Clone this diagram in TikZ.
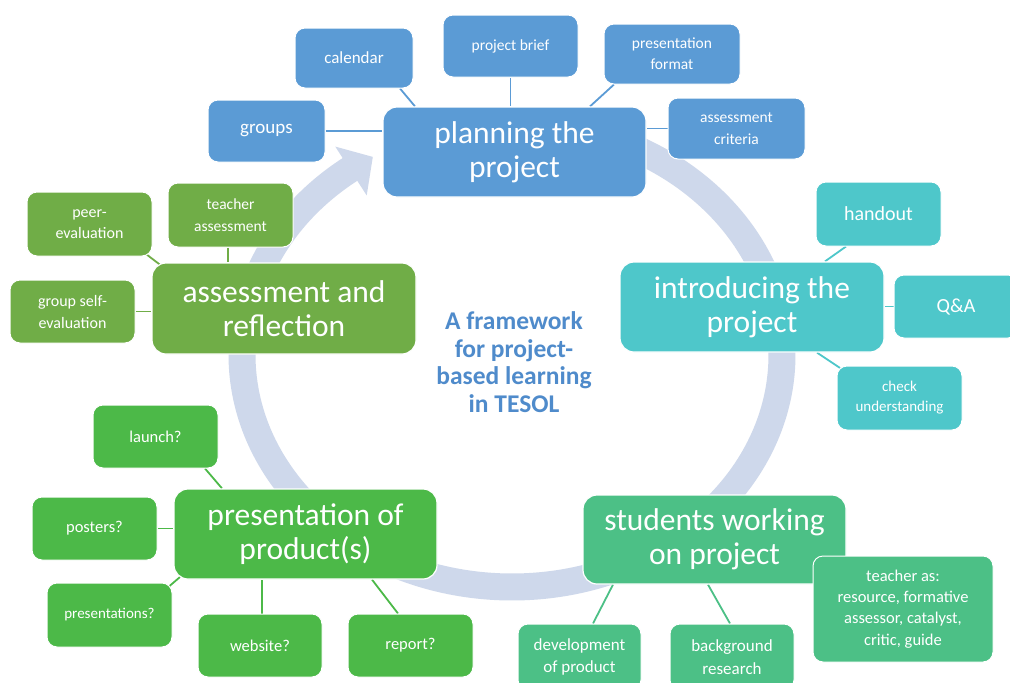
\documentclass[tikz,border=0pt]{standalone}
\usepackage{fontspec}
\setmainfont{Carlito}
\usetikzlibrary{backgrounds}

\definecolor{planblue}{RGB}{91,155,213}
\definecolor{introcyan}{RGB}{78,199,202}
\definecolor{workteal}{RGB}{76,192,134}
\definecolor{presgreen}{RGB}{76,185,72}
\definecolor{assessolive}{RGB}{112,173,71}
\definecolor{ringgrey}{RGB}{206,216,235}
\definecolor{titleblue}{RGB}{79,139,203}

\newcommand\fsz[2]{\fontsize{#1}{#2}\selectfont}

\tikzset{
  mainbox/.style={rounded corners=14pt, draw=white, line width=1.2pt, text=white,
    align=center, inner sep=0pt, minimum width=263pt, minimum height=90pt,
    font=\fsz{31.5}{34}},
  subbox/.style={rounded corners=10pt, draw=white, line width=1pt, text=white,
    align=center, inner sep=0pt, minimum width=125pt, minimum height=63pt},
  link/.style={line width=1.8pt},
  titletext/.style={align=center, text=titleblue, font=\bfseries\fsz{25.5}{27.5}}
}

\begin{document}
\begin{tikzpicture}[x=1pt,y=-1pt]
\useasboundingbox (0,0) rectangle (1010,683);

% ---------- planning the project ----------
\node[mainbox, fill=planblue] (plan) at (514.5,152) {planning the\\project};
\node[subbox, fill=planblue, minimum width=117pt, minimum height=62pt, font=\fsz{19}{22}] (groups) at (266.5,131) {groups};
\node[subbox, fill=planblue, minimum width=118pt, minimum height=60pt, font=\fsz{17}{21}] (calendar) at (354,58) {calendar};
\node[subbox, fill=planblue, minimum width=135pt, minimum height=62pt, font=\fsz{15.5}{21}] (brief) at (510.5,46) {project brief};
\node[subbox, fill=planblue, minimum width=136pt, minimum height=60pt, font=\fsz{15.5}{21}] (format) at (672,54) {presentation\\format};
\node[subbox, fill=planblue, minimum width=137pt, minimum height=61pt, font=\fsz{15.5}{22}] (criteria) at (736.5,128.5) {assessment\\criteria};

% ---------- introducing the project ----------
\node[mainbox, fill=introcyan, minimum width=264pt] (intro) at (752,307) {introducing the\\project};
\node[subbox, fill=introcyan, minimum height=64pt, font=\fsz{20}{22}] (handout) at (878.5,214) {handout};
\node[subbox, fill=introcyan, minimum width=124pt, font=\fsz{20}{22}] (qa) at (956,306.5) {Q\&A};
\node[subbox, fill=introcyan, minimum height=64pt, font=\fsz{15}{20}] (check) at (899.5,398) {check\\understanding};

% ---------- students working on project ----------
\node[mainbox, fill=workteal, minimum height=89pt] (work) at (714.5,539.5) {students working\\on project};
\node[subbox, fill=workteal, minimum width=123pt, minimum height=66pt, font=\fsz{17}{22}] (develop) at (579.5,657) {development\\of product};
\node[subbox, fill=workteal, minimum width=124pt, minimum height=66pt, font=\fsz{17}{23}] (research) at (732,657) {background\\research};
\node[subbox, fill=workteal, minimum width=180pt, minimum height=106pt, font=\fsz{16.5}{21.3}] (teacheras) at (903,609) {teacher as:\\resource, formative\\assessor, catalyst,\\critic, guide};

% ---------- presentation of product(s) ----------
\node[mainbox, fill=presgreen] (pres) at (305.5,534) {presentation of\\product(s)};
\node[subbox, fill=presgreen, font=\fsz{16.5}{21}] (launch) at (155.5,436.5) {launch?};
\node[subbox, fill=presgreen, font=\fsz{16.5}{21}] (posters) at (94.5,528.5) {posters?};
\node[subbox, fill=presgreen, minimum height=64pt, font=\fsz{15}{21}] (presentations) at (109.5,615) {presentations?};
\node[subbox, fill=presgreen, minimum width=124pt, font=\fsz{16.5}{21}] (website) at (260,645.5) {website?};
\node[subbox, fill=presgreen, font=\fsz{16.5}{21}] (report) at (410.5,645.5) {report?};

% ---------- assessment and reflection ----------
\node[mainbox, fill=assessolive, minimum width=264pt, minimum height=91pt] (assess) at (284,308.5) {assessment and\\reflection};
\node[subbox, fill=assessolive, minimum height=64pt, font=\fsz{15.5}{22}] (teacherass) at (230.5,215) {teacher\\assessment};
\node[subbox, fill=assessolive, minimum height=64pt, font=\fsz{16}{21}] (peer) at (89.5,224) {peer-\\evaluation};
\node[subbox, fill=assessolive, font=\fsz{16}{22}] (selfev) at (72.5,311.5) {group self-\\evaluation};

% ---------- centre title ----------
\node[titletext] (title) at (514,362) {A framework\\for project-\\based learning\\in TESOL};

\begin{scope}[on background layer]
  \fill[white] (0,0) rectangle (1010,683);

  % circular process arrow (ellipse centre 512,355; radii 270 x 232)
  \draw[ringgrey, line width=27pt]
    plot[domain=0:310, samples=160, smooth]
    ({512+270*cos(75-\x)},{355-232*sin(75-\x)});
  \coordinate (headtip) at (372.8,156.9);
  \coordinate (headin)  at (366.7,195.4);
  \coordinate (headout) at (335.3,146.6);
  \fill[ringgrey] (headtip) -- (headin) -- (headout) -- cycle;

  % planning links
  \draw[link, planblue] (groups.east) -- (plan.west |- groups.east);
  \draw[link, planblue] (400,0 |- calendar.south) -- (415,0 |- plan.north);
  \draw[link, planblue] (brief.south) -- (brief.south |- plan.north);
  \draw[link, planblue] (614,0 |- format.south) -- (590,0 |- plan.north);
  \draw[link, planblue] (criteria.west) -- (plan.east |- criteria.west);

  % introducing links
  \draw[link, introcyan] (846,0 |- handout.south) -- (825,0 |- intro.north);
  \draw[link, introcyan] (qa.west) -- (intro.east |- qa.west);
  \draw[link, introcyan] (840,368) -- (817,0 |- intro.south);

  % working links
  \draw[link, workteal] (613,0 |- work.south) -- (593,0 |- develop.north);
  \draw[link, workteal] (708,0 |- work.south) -- (730,0 |- research.north);

  % presentation links
  \draw[link, presgreen] (205,0 |- launch.south) -- (222,0 |- pres.north);
  \draw[link, presgreen] (posters.east) -- (pres.west |- posters.east);
  \draw[link, presgreen] (166,589) -- (180,577);
  \draw[link, presgreen] (262,0 |- website.north) -- (262,0 |- pres.south);
  \draw[link, presgreen] (398,0 |- report.north) -- (372,0 |- pres.south);

  % assessment links
  \draw[link, assessolive] (228,0 |- teacherass.south) -- (228,0 |- assess.north);
  \draw[link, assessolive] (146,254) -- (163,267);
  \draw[link, assessolive] (selfev.east) -- (assess.west |- selfev.east);
\end{scope}
\end{tikzpicture}
\end{document}
